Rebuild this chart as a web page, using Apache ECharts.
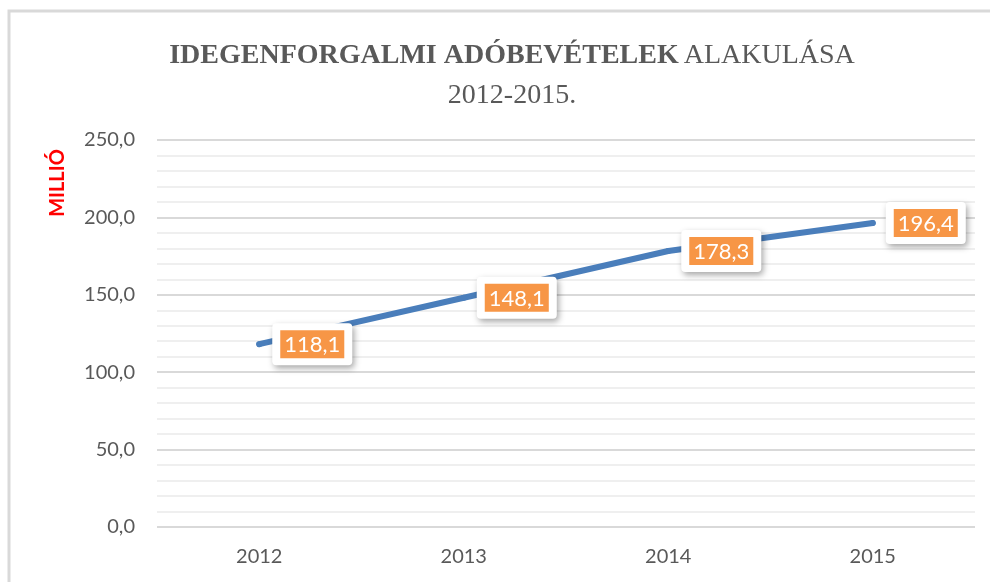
<!DOCTYPE html>
<html>
<head>
<meta charset="utf-8">
<script src="https://cdn.jsdelivr.net/npm/echarts@6/dist/echarts.min.js"></script>
<style>
  html, body { margin: 0; padding: 0; background: #fff; }
  #root { width: 990px; height: 582px; }
</style>
</head>
<body>
<div id="root"></div>
<script>
const years = ["2012", "2013", "2014", "2015"];
const revenue = [118.1, 148.1, 178.3, 196.4];

const fmt = (v) => v.toFixed(1).replace(".", ",");
const sans = "Lato";

const chart = echarts.init(document.getElementById("root"));
chart.setOption({
  animation: false,
  backgroundColor: "#fff",
  title: {
    left: 507,
    top: 31,
    textAlign: "center",
    text: "{b|IDEGENFORGALMI ADÓBEVÉTELEK} {n|ALAKULÁSA}\n{n|2012-2015.}",
    textStyle: {
      lineHeight: 40,
      fontWeight: "normal",
      rich: {
        b: { fontFamily: "Liberation Serif", fontWeight: "bold", fontSize: 28, color: "#595959", lineHeight: 40 },
        n: { fontFamily: "Liberation Serif", fontWeight: "normal", fontSize: 28, color: "#595959", lineHeight: 40 }
      }
    }
  },
  graphic: [
    {
      type: "rect",
      shape: { x: 9, y: 11, width: 1000, height: 600 },
      style: { fill: "none", stroke: "#d9d9d9", lineWidth: 3 },
      silent: true
    },
    {
      type: "text",
      x: 58,
      y: 183,
      rotation: Math.PI / 2,
      style: {
        text: "MILLIÓ",
        fill: "#ff0000",
        font: "bold 20px Lato, sans-serif",
        align: "center",
        verticalAlign: "middle"
      }
    }
  ],
  grid: { left: 157, right: 15, top: 140, bottom: 55 },
  xAxis: {
    type: "category",
    data: years,
    axisLine: { show: false },
    axisTick: { show: false },
    axisLabel: {
      margin: 20,
      color: "#595959",
      fontSize: 20,
      fontFamily: sans
    }
  },
  yAxis: {
    type: "value",
    min: 0,
    max: 250,
    interval: 50,
    axisLine: { show: false },
    axisTick: { show: false },
    axisLabel: {
      margin: 22,
      color: "#595959",
      fontSize: 20,
      fontFamily: sans,
      formatter: fmt
    },
    splitLine: { lineStyle: { color: "#d9d9d9", width: 2 } },
    minorTick: { show: false, splitNumber: 5 },
    minorSplitLine: { show: true, lineStyle: { color: "#efefef", width: 2 } }
  },
  series: [
    {
      type: "line",
      data: revenue,
      symbol: "circle",
      symbolSize: 6,
      itemStyle: { color: "#4a7ebb" },
      lineStyle: { color: "#4a7ebb", width: 6, cap: "round" },
      label: {
        show: true,
        position: "right",
        distance: 10,
        formatter: (p) => "{v|" + fmt(p.value) + "}",
        backgroundColor: "#fff",
        padding: [7, 8],
        borderRadius: 4,
        shadowBlur: 6,
        shadowColor: "rgba(0,0,0,0.35)",
        shadowOffsetX: 2,
        shadowOffsetY: 3,
        rich: {
          v: {
            backgroundColor: "#f79646",
            color: "#fff",
            fontSize: 22,
            fontFamily: sans,
            padding: [4, 4, 2, 4]
          }
        }
      }
    }
  ]
});
</script>
</body>
</html>
